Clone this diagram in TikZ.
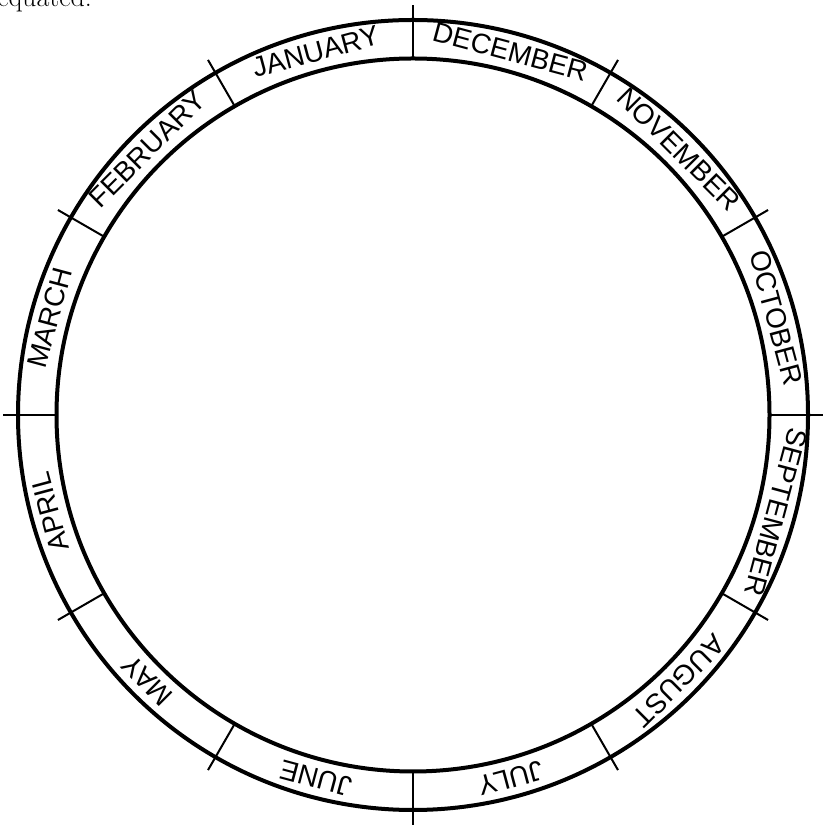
\documentclass[tikz,border=0pt]{standalone}
\usepackage{fontspec}
\setsansfont{Liberation Sans}
\tikzset{
  ring/.style={line width=3pt},
  tick/.style={line width=1.5pt},
  month/.style={font=\sffamily\fontsize{21}{25}\selectfont, inner sep=0pt}
}
\begin{document}
\begin{tikzpicture}[x=0.75pt, y=0.75pt]
	\useasboundingbox (0,0) rectangle (826,827);
	% cut-off line of the page text above
	\node[anchor=base west, inner sep=0pt, font=\fontsize{21}{25}\selectfont] (txt) at (-3,820) {equated.};
	\coordinate (c) at (413,412);
	\begin{scope}[shift={(c)}]
		\draw[ring] (0,0) circle (395);
		\draw[ring] (0,0) circle (356.5);
		\foreach \a in {0,30,...,330}
			\draw[tick] (\a:356.5) -- (\a:410);
		\foreach \m [count=\i] in {JANUARY,FEBRUARY,MARCH,APRIL,MAY,JUNE,JULY,AUGUST,SEPTEMBER,OCTOBER,NOVEMBER,DECEMBER}
			\node[month, rotate=75+30*\i-90] (m\i) at (75+30*\i:376) {\m};
	\end{scope}
\end{tikzpicture}
\end{document}
